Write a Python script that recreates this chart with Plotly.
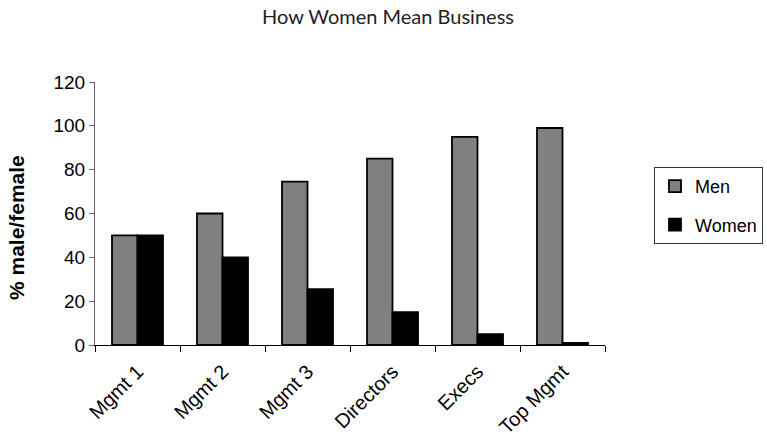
import plotly.graph_objects as go

categories = ["Mgmt 1", "Mgmt 2", "Mgmt 3", "Directors", "Execs", "Top Mgmt"]
men = [50, 60, 74.5, 85, 95, 99]
women = [50, 40, 25.5, 15, 5, 1]
y_ticks = [0, 20, 40, 60, 80, 100, 120]

fig = go.Figure()
fig.add_trace(go.Bar(x=categories, y=men, name="Men", legendgroup="a",
                     marker=dict(color="#808080", line=dict(color="black", width=1.8))))
fig.add_trace(go.Bar(x=categories, y=women, name="Women", legendgroup="b",
                     marker=dict(color="black", line=dict(color="black", width=1.8))))

fig.update_layout(
    width=767, height=443,
    margin=dict(l=95, r=162, t=82, b=98),
    paper_bgcolor="white", plot_bgcolor="white",
    barmode="group", bargap=0.4, bargroupgap=0,
    title=dict(text="How Women Mean Business", x=388/767, xanchor="center",
               y=1 - 17/443, yanchor="middle",
               font=dict(family="Lato", size=20, color="#222")),
    font=dict(family="Liberation Sans, Arial", size=19, color="black"),
    showlegend=True,
    legend=dict(xref="container", yref="container",
                x=654/767, xanchor="left", y=1 - 167/443, yanchor="top",
                bordercolor="#333", borderwidth=1, bgcolor="white",
                font=dict(size=18), traceorder="grouped", tracegroupgap=12),
    xaxis=dict(showline=True, linecolor="black", linewidth=1.2,
               ticks="outside", tickson="boundaries", ticklen=6, tickcolor="black",
               tickangle=-45, showgrid=False, tickfont=dict(size=20),
               ticklabelstandoff=6, automargin=False),
    yaxis=dict(range=[0, 120], tickvals=y_ticks, showline=True, linecolor="#666",
               linewidth=1.2, ticks="outside", ticklen=5, tickcolor="#666",
               showgrid=False, zeroline=False, tickfont=dict(size=19),
               automargin=False),
    annotations=[dict(text="<b>% male/female</b>", textangle=-90,
                      xref="paper", yref="paper", x=-(95 - 16) / 510, xanchor="center",
                      y=(345 - 228) / 263, yanchor="middle", showarrow=False,
                      font=dict(size=21, color="black"))],
)

fig.write_html("out.html")
